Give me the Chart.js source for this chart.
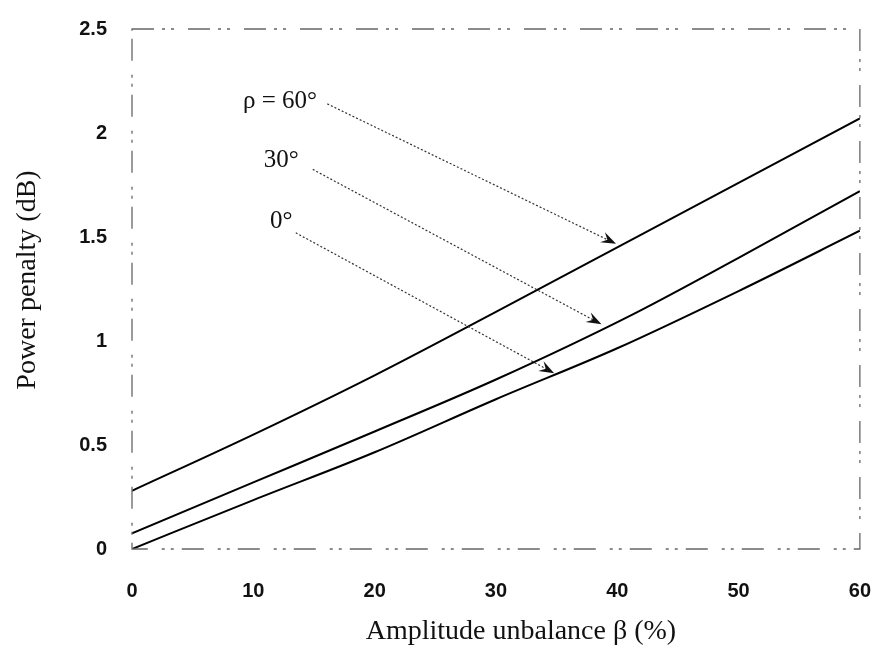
<!DOCTYPE html>
<html lang="en">
<head>
<meta charset="UTF-8">
<title>Power penalty</title>
<style>
  body{margin:0;background:#fff;}
  #chart-container{width:893px;height:650px;}
</style>
</head>
<body>
<div id="chart-container">
  <canvas id="line-chart" width="893" height="650"></canvas>
</div>
<script src="https://cdn.jsdelivr.net/npm/chart.js"></script>
<script>
// curves, one pair of arrays per rho
const beta60 = [0, 10, 20, 30, 40, 50, 60]
const penalty60 = [0.28, 0.55, 0.835, 1.14, 1.45, 1.76, 2.07]
const beta30 = [0, 10, 20, 30, 41, 50, 60]
const penalty30 = [0.075, 0.32, 0.565, 0.815, 1.12, 1.40, 1.72]
const beta0 = [0, 10, 20, 30, 40, 50, 60]
const penalty0 = [0, 0.235, 0.465, 0.72, 0.965, 1.24, 1.53]

const xTicks = [0, 10, 20, 30, 40, 50, 60]
const yTicks = [0, 0.5, 1, 1.5, 2, 2.5]

// labels with arrows (in data units)
const annoLabels = ['\u03c1 = 60\u00b0', '30\u00b0', '0\u00b0']
const annoLabelBeta = [12.2, 12.3, 12.3]
const annoLabelPenalty = [2.15, 1.87, 1.575]
const arrowFromBeta = [16.1, 14.9, 13.5]
const arrowFromPenalty = [2.14, 1.825, 1.52]
const arrowToBeta = [39.9, 38.7, 34.8]
const arrowToPenalty = [1.467, 1.08, 0.845]

const toPoints = (xs, ys) => xs.map((x, i) => ({x: x, y: ys[i]}))

const serif = '"Liberation Serif", "Times New Roman", serif'
const tickFont = {family: '"Liberation Sans", Arial, sans-serif', size: 20, weight: 'bold'}

const extras = {
  id: 'extras',
  afterDraw(chart) {
    const c = chart.ctx
    const a = chart.chartArea
    const xs = chart.scales.x, ys = chart.scales.y
    c.save()
    // broken frame like the scan
    c.strokeStyle = '#666'
    c.lineWidth = 1.3
    c.setLineDash([22, 8, 3, 6, 3, 14])
    c.strokeRect(a.left, a.top, a.right - a.left, a.bottom - a.top)
    c.setLineDash([])

    // axis titles
    c.fillStyle = '#111'
    c.font = '28px ' + serif
    c.textAlign = 'center'
    c.textBaseline = 'middle'
    c.fillText('Amplitude unbalance \u03b2 (%)', (a.left + a.right) / 2 + 25, 632)
    c.save()
    c.translate(28, 280)
    c.rotate(-Math.PI / 2)
    c.fillText('Power penalty (dB)', 0, 0)
    c.restore()

    // annotations
    c.font = '25px ' + serif
    annoLabels.forEach((t, i) => {
      c.fillText(t, xs.getPixelForValue(annoLabelBeta[i]), ys.getPixelForValue(annoLabelPenalty[i]))
      const x1 = xs.getPixelForValue(arrowFromBeta[i]), y1 = ys.getPixelForValue(arrowFromPenalty[i])
      const x2 = xs.getPixelForValue(arrowToBeta[i]), y2 = ys.getPixelForValue(arrowToPenalty[i])
      const ang = Math.atan2(y2 - y1, x2 - x1)
      const head = 16
      c.strokeStyle = '#333'
      c.lineWidth = 1.2
      c.setLineDash([2, 2])
      c.beginPath()
      c.moveTo(x1, y1)
      c.lineTo(x2 - head * 0.6 * Math.cos(ang), y2 - head * 0.6 * Math.sin(ang))
      c.stroke()
      c.setLineDash([])
      c.fillStyle = '#111'
      c.beginPath()
      c.moveTo(x2, y2)
      c.lineTo(x2 - head * Math.cos(ang - 0.35), y2 - head * Math.sin(ang - 0.35))
      c.lineTo(x2 - head * 0.6 * Math.cos(ang), y2 - head * 0.6 * Math.sin(ang))
      c.lineTo(x2 - head * Math.cos(ang + 0.35), y2 - head * Math.sin(ang + 0.35))
      c.closePath()
      c.fill()
    })
    c.restore()
  }
}

const lineStyle = {borderColor: '#000', borderWidth: 2, pointRadius: 0, cubicInterpolationMode: 'monotone', fill: false}

new Chart(document.getElementById('line-chart'), {
  type: 'line',
  data: {
    datasets: [
      Object.assign({label: '60', data: toPoints(beta60, penalty60)}, lineStyle),
      Object.assign({label: '30', data: toPoints(beta30, penalty30)}, lineStyle),
      Object.assign({label: '0', data: toPoints(beta0, penalty0)}, lineStyle)
    ]
  },
  options: {
    responsive: false,
    animation: false,
    layout: {padding: {top: 19, right: 19, left: 0, bottom: 0}},
    plugins: {legend: {display: false}, tooltip: {enabled: false}},
    scales: {
      x: {
        type: 'linear', min: 0, max: 60,
        grid: {display: false}, border: {display: false},
        afterFit: s => { s.height = 101 },
        afterBuildTicks: s => { s.ticks = xTicks.map(v => ({value: v})) },
        ticks: {padding: 22, color: '#111', font: tickFont, callback: v => String(v)}
      },
      y: {
        type: 'linear', min: 0, max: 2.5,
        grid: {display: false}, border: {display: false},
        afterFit: s => { s.width = 132 },
        afterBuildTicks: s => { s.ticks = yTicks.map(v => ({value: v})) },
        ticks: {padding: 17, color: '#111', font: tickFont, callback: v => String(v)}
      }
    }
  },
  plugins: [extras]
})
</script>
</body>
</html>
